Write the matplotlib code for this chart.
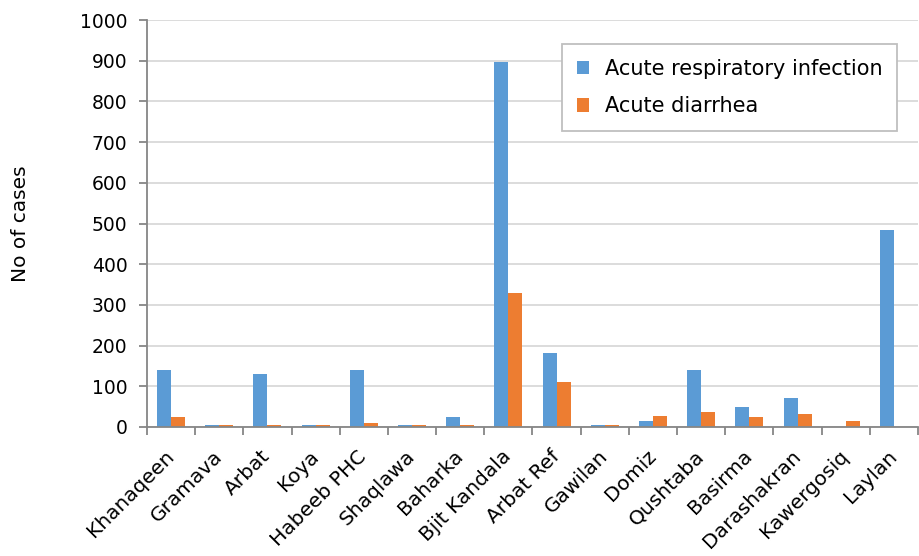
import numpy as np
import matplotlib.pyplot as plt
import matplotlib.transforms as mtransforms

plt.rcParams['font.family'] = ['DejaVu Sans']

sites = ['Khanaqeen', 'Gramava', 'Arbat', 'Koya', 'Habeeb PHC', 'Shaqlawa',
         'Baharka', 'Bjit Kandala', 'Arbat Ref', 'Gawilan', 'Domiz', 'Qushtaba',
         'Basirma', 'Darashakran', 'Kawergosiq', 'Laylan']
ari = [141, 5, 131, 5, 141, 5, 24, 897, 182, 5, 14, 141, 48, 72, 0, 484]
diarrhea = [24, 5, 5, 5, 10, 5, 5, 329, 111, 5, 28, 38, 24, 33, 14, 0]

blue = '#5b9bd5'
orange = '#ed7d31'
fs = 13.5
fs_text = 14.5

fig = plt.figure(figsize=(9.2, 5.56), dpi=100)
ax = fig.add_axes([147 / 920, 1 - 427 / 556, 771 / 920, 407 / 556])

x = np.arange(len(sites))
w = 0.29
ax.bar(x - w / 2, ari, w, color=blue, label='Acute respiratory infection', zorder=3)
ax.bar(x + w / 2, diarrhea, w, color=orange, label='Acute diarrhea', zorder=3)

ax.set_xlim(-0.5, len(sites) - 0.5)
ax.set_ylim(0, 1000)
ax.set_yticks(range(0, 1001, 100))
ax.yaxis.grid(True, color='#d9d9d9', linewidth=1.3, zorder=0)

ax.set_xticks(x)
ax.set_xticklabels(sites, rotation=45, ha='right', va='center',
                   rotation_mode='anchor', fontsize=fs_text)
shift = mtransforms.ScaledTranslation(7 / 100, 0, fig.dpi_scale_trans)
for lbl in ax.get_xticklabels():
    lbl.set_transform(lbl.get_transform() + shift)
ax.set_xticks(np.arange(-0.5, len(sites), 1), minor=True)
ax.tick_params(axis='x', which='major', length=0, pad=19)
ax.tick_params(axis='x', which='minor', length=6, color='#868686', width=1.3)
ax.tick_params(axis='y', length=6, color='#868686', width=1.3, labelsize=fs, pad=8)

for s in ['top', 'right']:
    ax.spines[s].set_visible(False)
for s in ['left', 'bottom']:
    ax.spines[s].set_color('#868686')
    ax.spines[s].set_linewidth(1.3)
ax.spines['bottom'].set_zorder(4)

ax.set_ylabel('No of cases', fontsize=fs_text, labelpad=36)

leg = ax.legend(loc='upper left', bbox_to_anchor=((562 - 147) / 771, 1 - 24 / 407),
                fontsize=15, frameon=True, fancybox=False, edgecolor='#bfbfbf',
                handlelength=0.6, handleheight=0.6, handletextpad=0.75,
                borderpad=0.7, labelspacing=0.85, borderaxespad=0,
                framealpha=1)
leg.get_frame().set_linewidth(1.3)

fig.savefig('out.png', dpi=100)
